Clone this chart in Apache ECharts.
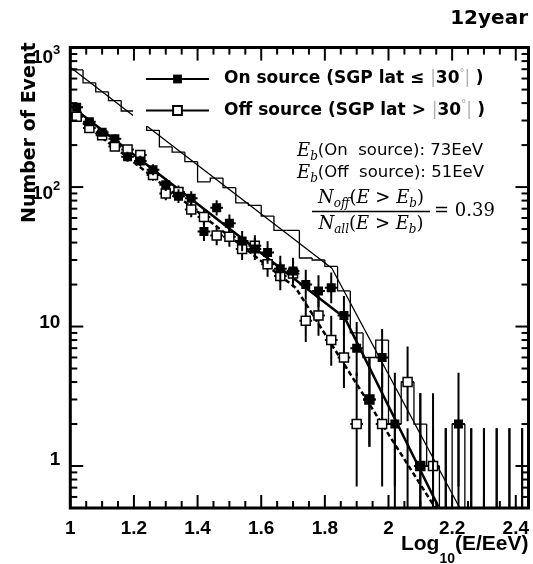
<!DOCTYPE html>
<html><head><meta charset="utf-8">
<script src="https://cdn.jsdelivr.net/npm/echarts@6/dist/echarts.min.js"></script>
<style>html,body{margin:0;padding:0;background:#fff}#c{width:533px;height:564px}</style>
</head><body><div id="c"></div>
<script>
// ---- data ----
const lgE = [1.02,1.06,1.10,1.14,1.18,1.22,1.26,1.30,1.34,1.38,1.42,1.46,1.50,1.54,1.58,1.62,1.66,1.70,
             1.74,1.78,1.82,1.86,1.90,1.94,1.98,2.02,2.06,2.10,2.14,2.18,2.22,2.26,2.30,2.34,2.38,2.42];
const onCounts  = [373,294,247,222,165,154,133,104,86,83,48,71,55,41,36,34,26,25,
                   20,18,19,12,7,3,6,2,0,1,0,0,2,0,0,0,0,0];
const offCounts = [319,265,235,195,186,170,122,90,92,69,61,45,44,36,38,28,23,24,
                   11,12,8,6,2,3,2,0,4,1,1,0,0,0,0,0,0,0];
const binHalfWidth = 0.02;
// fitted broken power laws: [log10(E/EeV), N]  (start, break, end)
const fitAll = [[1.0,723],[1.822,26.2],[2.224,0.5]];
const fitOn  = [[1.0,385],[1.863,11.5],[2.159,0.5]];
const fitOff = [[1.0,339],[1.708,19.0],[2.147,0.5]];
const xTickLabels = [1,1.2,1.4,1.6,1.8,2,2.2,2.4];
const yTickValues = [1,10,100,1000];
const yTickTexts  = ['{p0|1}','{p1|10}','{p2|10}{s2|2}','{p3|10}{s3|3}'];

// Poisson 68% interval (Gehrels approximation) for error bars
function poisLo(n){ if(n<=0) return 0; const t = 1 - 1/(9*n) - 1/(3*Math.sqrt(n)); return n*t*t*t; }
function poisHi(n){ return n + 1 + Math.sqrt(n + 0.75); }

const allCounts = onCounts.map((v,i)=>v+offCounts[i]);

const histData = lgE.map((x,i)=>{
  const n = allCounts[i], np = i>0 ? allCounts[i-1] : allCounts[0];
  return [x-binHalfWidth, x+binHalfWidth, Math.max(n,np,1), n, np];
});
const mkPts = counts => lgE.map((x,i)=>[x, poisHi(counts[i]), counts[i], poisLo(counts[i])]);

// tick marks (axis decoration)
const tickData = [];
for (let k=0;k<=28;k++){ const v = +(1+0.05*k).toFixed(2); tickData.push([v,1, (k%4===0)?0:1]); }
[0.6,0.7,0.8,0.9].forEach(v=>tickData.push([1.5,v,3]));
[1,10,100].forEach(d=>{ tickData.push([1.5,d,2]); for(let m=2;m<=9;m++) tickData.push([1.5,d*m,3]); });

function tickRender(params, api){
  const cs = params.coordSys, kind = api.value(2);
  const L = cs.x, R = cs.x+cs.width, T = cs.y, B = cs.y+cs.height;
  const st = {stroke:'#000', lineWidth:2};
  if (kind < 2){
    const px = api.coord([api.value(0),1])[0], len = kind===0?13:7;
    return {type:'group', children:[
      {type:'line', shape:{x1:px,y1:B,x2:px,y2:B-len}, style:st},
      {type:'line', shape:{x1:px,y1:T,x2:px,y2:T+len}, style:st}]};
  }
  const py = api.coord([1.5, api.value(1)])[1], len = kind===2?13:7;
  return {type:'group', children:[
    {type:'line', shape:{x1:L,y1:py,x2:L+len,y2:py}, style:st},
    {type:'line', shape:{x1:R,y1:py,x2:R-len,y2:py}, style:st}]};
}
function histRender(params, api){
  const cs = params.coordSys, B = cs.y+cs.height;
  const left = api.value(0), right = api.value(1), n = api.value(3), np = api.value(4);
  const yOf = v => v>0 ? api.coord([left,v])[1] : B+5;
  const xl = api.coord([left,1])[0], xr = api.coord([right,1])[0];
  return {type:'polyline', shape:{points:[[xl,yOf(np)],[xl,yOf(n)],[xr,yOf(n)]]},
          style:{stroke:'#000', fill:'none', lineWidth:1.3}};
}
function ptsRender(filled){
  return function(params, api){
    const cs = params.coordSys, B = cs.y+cs.height;
    const x = api.value(0), hi = api.value(1), n = api.value(2), lo = api.value(3);
    const pHi = api.coord([x,hi]), px = pHi[0];
    const st = {stroke:'#000', lineWidth:2};
    const ch = [];
    if (n > 0){
      const yLo = lo > 0 ? Math.min(api.coord([x,lo])[1], B) : B;
      const py = api.coord([x,n])[1];
      const xl = api.coord([x-binHalfWidth,n])[0], xr = api.coord([x+binHalfWidth,n])[0];
      ch.push({type:'line', shape:{x1:px,y1:pHi[1],x2:px,y2:yLo}, style:st});
      ch.push({type:'line', shape:{x1:xl,y1:py,x2:xr,y2:py}, style:st});
      ch.push({type:'rect', shape:{x:px-4.5,y:py-4.5,width:9,height:9},
               style: filled ? {fill:'#000'} : {fill:'#fff', stroke:'#000', lineWidth:1.5}});
    } else {
      ch.push({type:'line', shape:{x1:px,y1:pHi[1],x2:px,y2:B}, style:st});
    }
    return {type:'group', children:ch};
  };
}

const SANS = 'Liberation Sans', DJ = 'DejaVu Sans', SERIF = 'DejaVu Serif';
const legendText = {
  'On source':  '{b|On source (SGP lat ≤ }{bar||}{b|30}{deg|°}{bar|| }{b|)}',
  'Off source': '{b|Off source (SGP lat > }{bar||}{b|30}{deg|°}{bar|| }{b|)}'
};
const mathRich = {
  it:  {fontFamily:SERIF, fontStyle:'italic', fontSize:18, color:'#000'},
  sb:  {fontFamily:SERIF, fontStyle:'italic', fontSize:12, color:'#000', padding:[11,0,0,0]},
  rm:  {fontFamily:SERIF, fontSize:18, color:'#000'},
  sf:  {fontFamily:DJ, fontSize:16.5, color:'#000'}
};

const chart = echarts.init(document.getElementById('c'), null, {renderer:'canvas'});
chart.setOption({
  animation:false,
  backgroundColor:'#fff',
  title:{text:'12year', right:0, top:4, padding:5,
         textStyle:{fontFamily:DJ, fontWeight:'bold', fontSize:20, color:'#000'}},
  grid:{left:70.3, right:4.5, top:47.6, bottom:56, show:true, borderColor:'#000', borderWidth:3,
        containLabel:false, outerBoundsMode:'none'},
  xAxis:{type:'value', min:1, max:2.44, interval:0.2,
    name:'Log{sub|10}(E/EeV)', nameLocation:'end', nameGap:0, nameMoveOverlap:false,
    nameTextStyle:{align:'right', verticalAlign:'top', fontFamily:SANS, fontWeight:'bold', fontSize:21,
      color:'#000', padding:[14,0,0,0],
      rich:{sub:{fontFamily:SANS, fontWeight:'bold', fontSize:14, color:'#000', padding:[30,0,0,0]}}},
    axisLine:{show:false}, axisTick:{show:false}, splitLine:{show:false},
    axisLabel:{margin:11, fontFamily:SANS, fontWeight:'bold', fontSize:19, color:'#000',
      formatter:v=>{ const r = +v.toFixed(2); return xTickLabels.some(t=>Math.abs(t-r)<1e-6) ? String(+r.toFixed(1)) : ''; }}
  },
  yAxis:{type:'log', logBase:10, min:0.5, max:1000,
    name:'Number of Event', nameLocation:'end', nameGap:-175.4, nameRotate:90, nameMoveOverlap:false,
    nameTextStyle:{verticalAlign:'bottom', fontFamily:DJ, fontWeight:'bold', fontSize:19,
      color:'#000', padding:[0,0,31,0]},
    axisLine:{show:false}, axisTick:{show:false}, splitLine:{show:false},
    axisLabel:{margin:10, fontFamily:SANS, fontWeight:'bold', fontSize:19, color:'#000',
      formatter:v=>{ const i = yTickValues.findIndex(t=>Math.abs(Math.log10(v)-Math.log10(t))<1e-6); return i<0?'':yTickTexts[i]; },
      rich:{
        p0:{fontFamily:SANS, fontWeight:'bold', fontSize:19, color:'#000', padding:[0,0,13,0]},
        p1:{fontFamily:SANS, fontWeight:'bold', fontSize:19, color:'#000', padding:[0,0,8,0]},
        p2:{fontFamily:SANS, fontWeight:'bold', fontSize:19, color:'#000', padding:[14,0,0,0]},
        s2:{fontFamily:SANS, fontWeight:'bold', fontSize:13, color:'#000', padding:[0,0,2,0]},
        p3:{fontFamily:SANS, fontWeight:'bold', fontSize:19, color:'#000', padding:[20,0,0,0]},
        s3:{fontFamily:SANS, fontWeight:'bold', fontSize:13, color:'#000', padding:[5,0,0,0]}
      }}
  },
  legend:{orient:'vertical', left:133, top:61, padding:[7,10,7,12], backgroundColor:'#fff',
    itemWidth:63, itemHeight:11, itemGap:12, selectedMode:false,
    data:['On source','Off source'],
    formatter:name=>legendText[name],
    textStyle:{fontFamily:DJ, fontWeight:'bold', fontSize:17, color:'#000', padding:[0,0,0,10],
      rich:{
        b:{fontFamily:DJ, fontWeight:'bold', fontSize:17, color:'#000'},
        bar:{fontFamily:DJ, fontWeight:'normal', fontSize:17, color:'#b0b0b0'},
        deg:{fontFamily:DJ, fontWeight:'normal', fontSize:10, color:'#a0a0a0', padding:[0,0,12,0]}
      }}
  },
  graphic:[
    {type:'text', x:297, y:151, style:{text:'{it|E}{sb|b}{sf|(On  source): 73EeV}', rich:mathRich, verticalAlign:'middle'}},
    {type:'text', x:297, y:173, style:{text:'{it|E}{sb|b}{sf|(Off  source): 51EeV}', rich:mathRich, verticalAlign:'middle'}},
    {type:'text', x:371, y:198, style:{text:'{it|N}{sb|off}{rm|(}{it|E}{rm| > }{it|E}{sb|b}{rm|)}', rich:mathRich, align:'center', verticalAlign:'middle'}},
    {type:'line', shape:{x1:312,y1:211.5,x2:430,y2:211.5}, style:{stroke:'#000', lineWidth:1.3}},
    {type:'text', x:371, y:224, style:{text:'{it|N}{sb|all}{rm|(}{it|E}{rm| > }{it|E}{sb|b}{rm|)}', rich:mathRich, align:'center', verticalAlign:'middle'}},
    {type:'text', x:434, y:211, style:{text:'{rm|= 0.39}', rich:mathRich, verticalAlign:'middle'}}
  ],
  series:[
    {type:'custom', name:'ticks', renderItem:tickRender, data:tickData, encode:{x:0,y:1}, clip:false, silent:true, z:10},
    {type:'custom', name:'all', renderItem:histRender, data:histData, encode:{x:[0,1],y:2}, clip:true, silent:true, z:2},
    {type:'line', name:'fitAll', data:fitAll, symbol:'none', silent:true, z:3, lineStyle:{color:'#000', width:1.3}},
    {type:'line', name:'fitOff', data:fitOff, symbol:'none', silent:true, z:3, lineStyle:{color:'#000', width:2.5, type:[5,3]}},
    {type:'line', name:'fitOn', data:fitOn, symbol:'none', silent:true, z:3, lineStyle:{color:'#000', width:2.5}},
    {type:'custom', name:'offPts', renderItem:ptsRender(false), data:mkPts(offCounts), encode:{x:0,y:1}, clip:true, silent:true, z:4},
    {type:'custom', name:'onPts', renderItem:ptsRender(true), data:mkPts(onCounts), encode:{x:0,y:1}, clip:true, silent:true, z:5},
    {type:'line', name:'On source', data:[], symbol:'rect', symbolSize:9,
      itemStyle:{color:'#000'}, lineStyle:{color:'#000', width:1.6}},
    {type:'line', name:'Off source', data:[], symbol:'rect', symbolSize:9,
      itemStyle:{color:'#fff', borderColor:'#000', borderWidth:1.5}, lineStyle:{color:'#000', width:1.6}}
  ]
});
</script></body></html>
